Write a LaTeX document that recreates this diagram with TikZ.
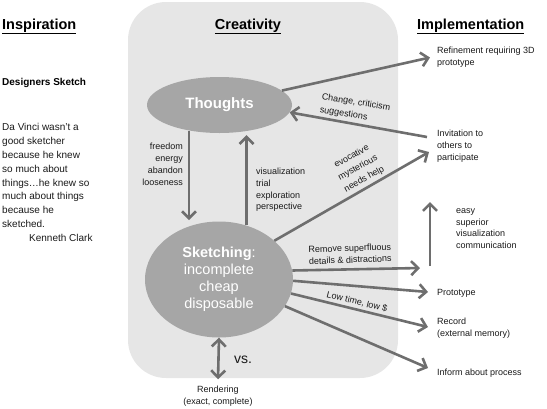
\documentclass[tikz,border=0pt]{standalone}
\usepackage{fontspec}
\setmainfont{Liberation Sans}
\usetikzlibrary{shapes.geometric,arrows.meta}
\definecolor{bgpanel}{RGB}{230,230,230}
\definecolor{ellfill}{RGB}{166,166,166}
\definecolor{arrgray}{RGB}{110,110,110}
\definecolor{txtc}{RGB}{25,25,25}
\begin{document}
\begin{tikzpicture}[x=1pt,y=-1pt,
  arr/.style={draw=arrgray,line width=2.6pt,-{Straight Barb[length=7pt,width=14pt]}},
  darr/.style={draw=arrgray,line width=2.6pt,{Straight Barb[length=7pt,width=14pt]}-{Straight Barb[length=7pt,width=14pt]}},
  ell/.style={ellipse,fill=ellfill,inner sep=0pt,text=white,align=center},
  lbl/.style={inner sep=0pt,text=txtc,align=left,font=\fontsize{9}{11.7}\selectfont},
  hdr/.style={inner sep=0pt,text=black,font=\fontsize{14.5}{17}\selectfont\bfseries}]
\useasboundingbox (0,0) rectangle (547,408);
\fill[bgpanel,rounded corners=38pt] (128,2) rectangle (398,378);

% headers
\node[hdr,anchor=base west] (insp) at (2,29) {\underline{Inspiration}};
\node[hdr,anchor=base] (crea) at (248,29) {\underline{Creativity}};
\node[hdr,anchor=base west] (impl) at (417,29) {\underline{Implementation}};

% left column
\node[inner sep=0pt,anchor=west,font=\fontsize{10}{12}\selectfont\bfseries] (des) at (2,83) {Designers Sketch};
\node[inner sep=0pt,anchor=west,align=left,text=txtc,font=\fontsize{10}{13.9}\selectfont] (quote) at (2,182.5)
  {Da Vinci wasn’t a\\good sketcher\\because he knew\\so much about\\things…he knew so\\much about things\\because he\\sketched.\\\hspace*{27pt}Kenneth Clark};

% ellipses
\node[ell,minimum width=145pt,minimum height=56pt,font=\fontsize{15}{18}\selectfont\bfseries] (th) at (219.5,105) {Thoughts};
\node[ell,minimum width=148pt,minimum height=116pt,font=\fontsize{14.5}{17}\selectfont] (sk) at (219,279.5)
  {{\bfseries Sketching}:\\incomplete\\cheap\\disposable};

% implementation texts
\node[lbl,anchor=west] (ref) at (437,57.5) {Refinement requiring 3D\\prototype};
\node[lbl,anchor=west] (inv) at (437,146) {Invitation to\\others to\\participate};
\node[lbl,anchor=west] (easy) at (456,228.5) {easy\\superior\\visualization\\communication};
\node[lbl,anchor=west] (proto) at (437,293) {Prototype};
\node[lbl,anchor=west] (rec) at (437,328.5) {Record\\(external memory)};
\node[lbl,anchor=west] (inf) at (437,373) {Inform about process};
\node[lbl,align=center] (ren) at (218,396) {Rendering\\(exact, complete)};
\node[inner sep=0pt,text=txtc,font=\fontsize{14}{16}\selectfont] (vs) at (243,360) {vs.};

% labels on connectors
\node[lbl,align=right,anchor=east,font=\fontsize{9}{12}\selectfont] (free) at (183,164) {freedom\\energy\\abandon\\looseness};
\node[lbl,anchor=west] (vis) at (256,190) {visualization\\trial\\exploration\\perspective};
\node[lbl,rotate=-9,font=\fontsize{9}{13}\selectfont] (chg) at (355,109) {Change, criticism\\suggestions};
\node[lbl,align=center,rotate=29,font=\fontsize{9}{13}\selectfont] (evo) at (358,168) {evocative\\mysterious\\needs help};
\node[lbl,align=center,rotate=2] (rem) at (350,254) {Remove superfluous\\details \& distractions};
\node[lbl,rotate=-14] (low) at (357,302) {Low time, low \$};

% connectors
\coordinate (upb) at (430,266);
\coordinate (upt) at (430,202);
\draw[arr,shorten >=6pt] (th.-140) -- (th.-140 |- sk.119.5);
\draw[arr,shorten >=4pt] (sk.63.4) -- (sk.63.4 |- th.-44.5);
\draw[arr] (th.13) -- ([xshift=-7pt]ref.west);
\draw[arr] ([xshift=-10pt,yshift=9pt]inv.west) -- (th.-6.5);
\draw[arr] (sk.35) -- ([xshift=-8pt,yshift=-6pt]inv.west);
\draw[arr] (sk.7) -- ([xshift=-10pt,yshift=-2pt]upb);
\draw[arr] (upb) -- (upt);
\draw[arr] (sk.-1.5) -- ([xshift=-9pt,yshift=1pt]proto.west);
\draw[arr] (sk.-11) -- ([xshift=-9pt,yshift=1.5pt]rec.west);
\draw[arr] (sk.-22) -- ([xshift=-9pt,yshift=5pt]inf.west);
\draw[darr] (sk.south) -- ([yshift=6.5pt]ren.north);
\end{tikzpicture}
\end{document}
